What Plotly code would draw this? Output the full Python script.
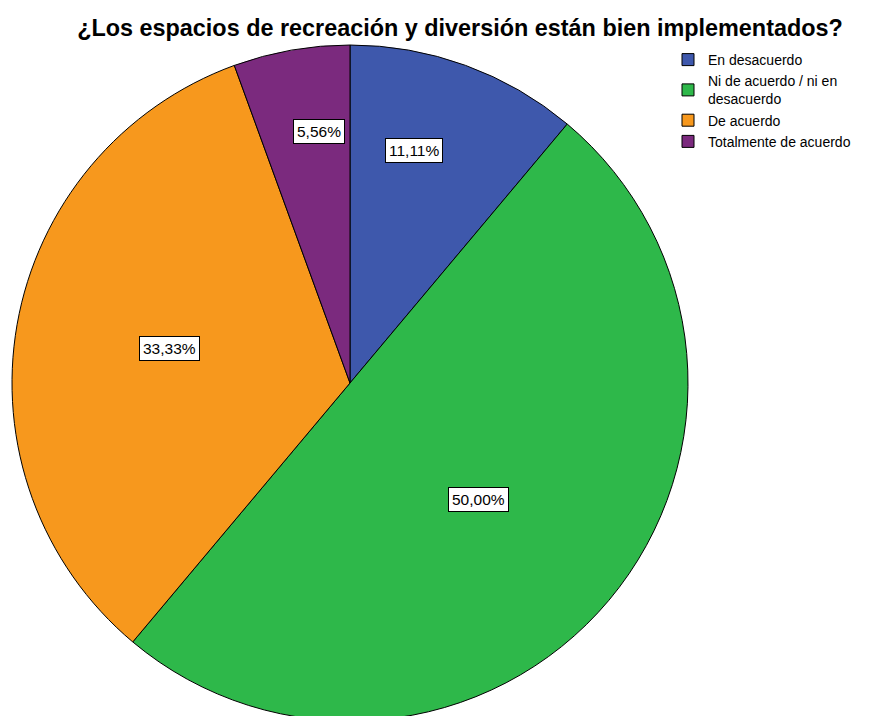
import math
import plotly.graph_objects as go

# ---- data ----
categories = ["En desacuerdo", "Ni de acuerdo / ni en<br>desacuerdo", "De acuerdo", "Totalmente de acuerdo"]
values = [11.11, 50.00, 33.33, 5.56]
value_labels = ["11,11%", "50,00%", "33,33%", "5,56%"]
colors = ["#3E58AC", "#2EB84A", "#F7981D", "#7B2A7E"]
title_text = "¿Los espacios de recreación y diversión están bien implementados?"

# ---- layout constants (figure pixels; page adds an 8px body margin) ----
W, H = 870, 716
pie_left, pie_top, pie_diam = 4, 37, 676
label_radius_frac = [0.715, 0.514, 0.543, 0.751]
label_angle_offset = [-4.6, 2.1, 0.7, 2.9]
FONT = "Arial, Liberation Sans, sans-serif"

dom_x = [pie_left / W, (pie_left + pie_diam) / W]
dom_y = [1 - (pie_top + pie_diam) / H, 1 - pie_top / H]

fig = go.Figure()
fig.add_trace(go.Pie(
    labels=categories,
    values=values,
    sort=False,
    direction="clockwise",
    rotation=0,
    marker=dict(colors=colors, line=dict(color="#000000", width=1)),
    textinfo="none",
    hoverinfo="label+percent",
    domain=dict(x=dom_x, y=dom_y),
))

# label boxes computed from slice geometry
R = pie_diam / 2
cx = pie_left + R
cy = pie_top + R
total = sum(values)
cum = 0
annotations = []
for i, v in enumerate(values):
    mid = (cum + v / 2) / total
    cum += v
    ang = math.radians(mid * 360 + label_angle_offset[i])
    r = R * label_radius_frac[i]
    px = cx + r * math.sin(ang)
    py = cy - r * math.cos(ang)
    annotations.append(dict(
        x=px / W, y=1 - py / H, xref="paper", yref="paper",
        text=value_labels[i], showarrow=False,
        font=dict(family=FONT, size=15.5, color="#000000"),
        bgcolor="#FFFFFF", bordercolor="#000000", borderwidth=1, borderpad=3,
        xanchor="center", yanchor="middle",
    ))

fig.update_layout(
    width=W, height=H,
    margin=dict(l=0, r=0, t=0, b=0),
    paper_bgcolor="#FFFFFF", plot_bgcolor="#FFFFFF",
    title=dict(text="<b>" + title_text + "</b>", x=452 / W, xanchor="center",
               y=1 - 20 / H, yanchor="middle", yref="paper",
               font=dict(family=FONT, size=23.4, color="#000000")),
    legend=dict(x=660 / W, y=1 - 36 / H, xanchor="left", yanchor="top",
                font=dict(family=FONT, size=14, color="#000000"),
                bgcolor="rgba(0,0,0,0)", tracegroupgap=0, itemwidth=30),
    annotations=annotations,
    showlegend=True,
)

fig.write_html("out.html")
